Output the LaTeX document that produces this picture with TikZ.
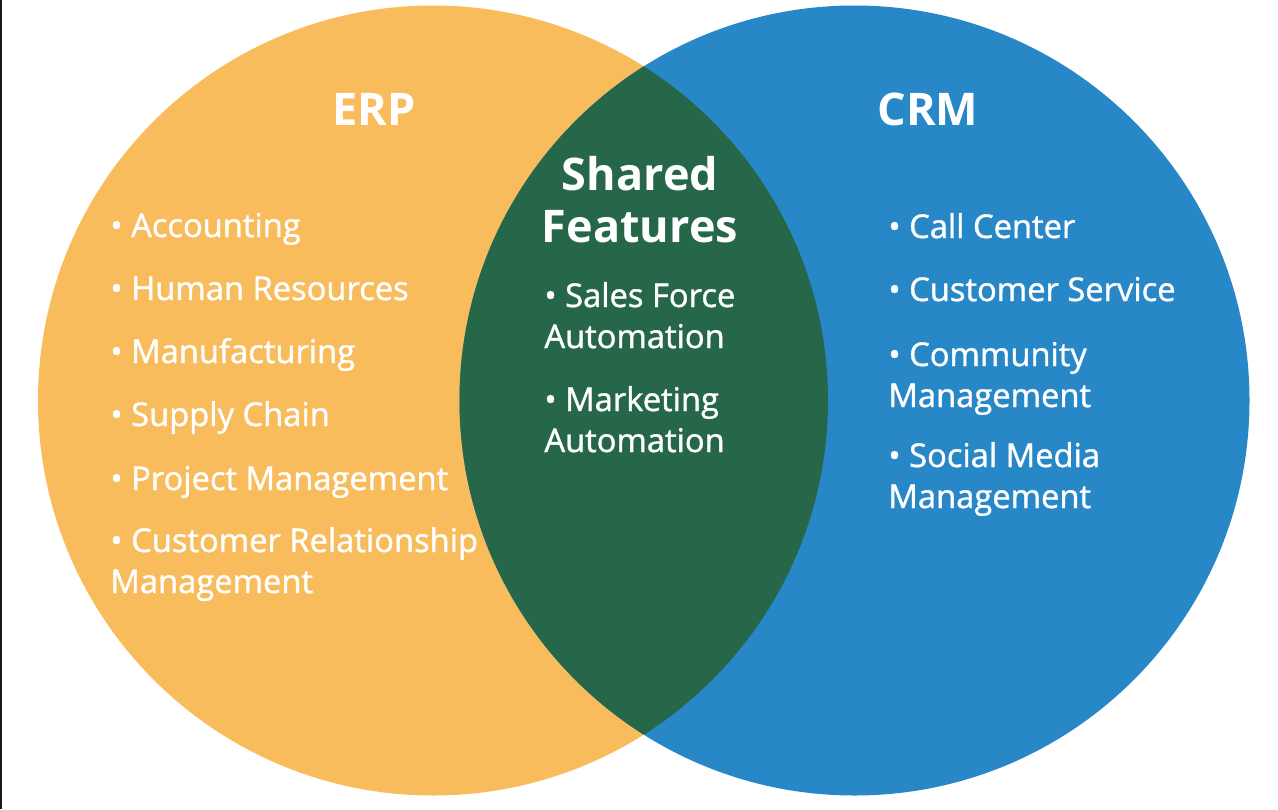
\documentclass[tikz,border=0pt]{standalone}
\usepackage{fontspec}
\setmainfont{Open Sans}[UprightFeatures={FakeBold=1.2}]
\usepackage{xcolor}
\usepackage{tikz}
\usetikzlibrary{positioning}
\definecolor{erporange}{RGB}{249,188,92}
\definecolor{crmblue}{RGB}{40,136,199}
\definecolor{sharedgreen}{RGB}{37,103,72}

\begin{document}
\begin{tikzpicture}[
  x=0.5pt, y=-0.5pt,
  title/.style={text=white, font=\fontsize{22.5}{26}\selectfont\bfseries, inner sep=0pt, anchor=base, align=center},
  item/.style={text=white, font=\fontsize{16.35}{20.5}\selectfont, inner sep=0pt, anchor=base west, align=left}
]
  \useasboundingbox (0,0) rectangle (1278,809);
  \fill[black!90] (0,0) rectangle (1.5,809);

  % Circles
  \fill[erporange] (433,400.5) circle[radius=197.5pt];
  \fill[crmblue] (854.5,400.5) circle[radius=197.5pt];
  \begin{scope}
    \clip (433,400.5) circle[radius=197.5pt];
    \fill[sharedgreen] (854.5,400.5) circle[radius=197.5pt];
  \end{scope}

  % Titles (base = last line)
  \node[title] (erp)    at (374,125) {ERP};
  \node[title] (crm)    at (928,125) {CRM};
  \node[title] (shared) at (640,242) {Shared\\Features};

  % ERP list
  \node[item] (acc)  at (110,237) {• Accounting};
  \node[item] (hr)   at (110,300) {• Human Resources};
  \node[item] (manu) at (110,363) {• Manufacturing};
  \node[item] (sc)   at (110,426) {• Supply Chain};
  \node[item] (pm)   at (110,490) {• Project Management};
  \node[item] (crel) at (110,593) {• Customer Relationship\\Management};

  % Shared list
  \node[item] (sfa) at (544,348) {• Sales Force\\Automation};
  \node[item] (ma)  at (544,452) {• Marketing\\Automation};

  % CRM list
  \node[item] (cc)   at (888,238) {• Call Center};
  \node[item] (cs)   at (888,301) {• Customer Service};
  \node[item] (cm)   at (888,407) {• Community\\Management};
  \node[item] (smm)  at (888,508) {• Social Media\\Management};
\end{tikzpicture}
\end{document}
